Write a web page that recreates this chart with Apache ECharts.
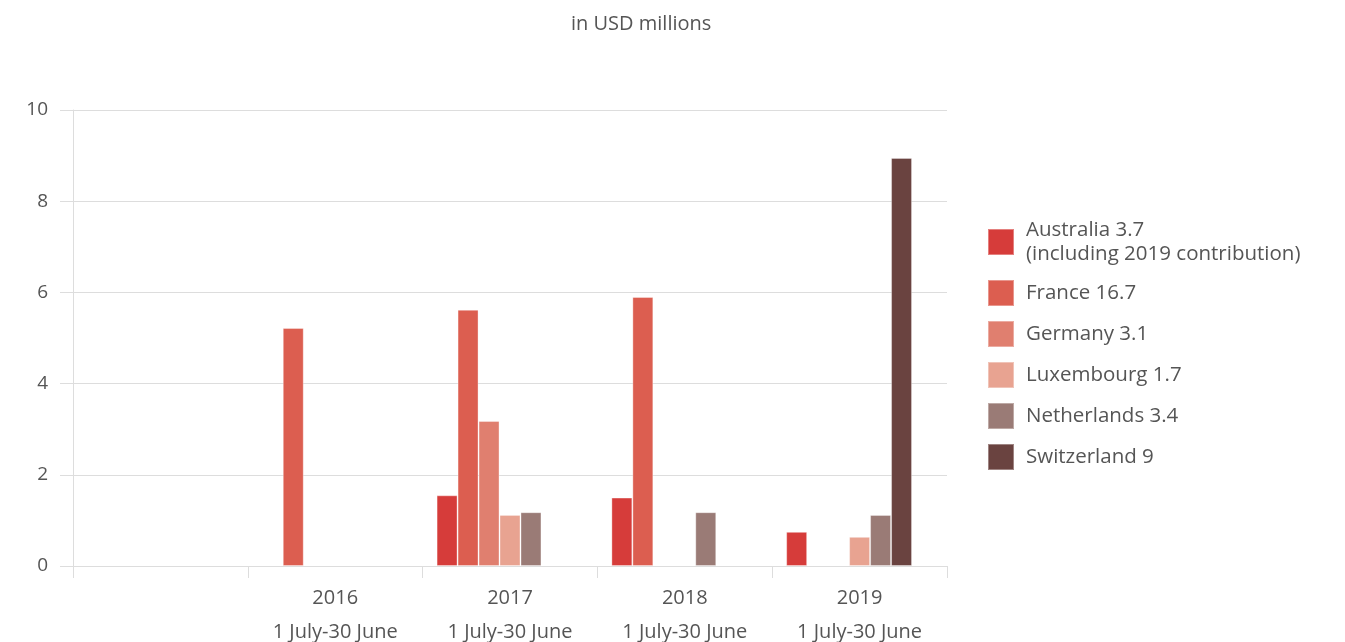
<!DOCTYPE html>
<html>
<head>
<meta charset="utf-8">
<script src="https://cdn.jsdelivr.net/npm/echarts@6/dist/echarts.min.js"></script>
<style>
html,body{margin:0;padding:0;background:#fff;}
#chart{width:1345px;height:642px;}
</style>
</head>
<body>
<div id="chart"></div>
<script>
var categories = ['', '2016', '2017', '2018', '2019'];
var subLabel = '1 July-30 June';
var australia   = [null, null, 1.55, 1.5, 0.75];
var france      = [null, 5.22, 5.62, 5.9, null];
var germany     = [null, null, 3.18, null, null];
var luxembourg  = [null, null, 1.12, null, 0.64];
var netherlands = [null, null, 1.18, 1.18, 1.12];
var switzerland = [null, null, null, null, 8.95];
var spacer      = [null, null, null, null, null];
var seriesNames = ['Australia 3.7\n(including 2019 contribution)', 'France 16.7', 'Germany 3.1', 'Luxembourg 1.7', 'Netherlands 3.4', 'Switzerland 9'];
var seriesColors = ['#D63C3A', '#DC5E50', '#E07F6F', '#E8A391', '#9A7B76', '#6A4340'];
var seriesData = [australia, france, germany, luxembourg, netherlands, switzerland];

var FONT = 'Open Sans';
var chart = echarts.init(document.getElementById('chart'));

var series = seriesData.map(function (d, i) {
  return {
    name: seriesNames[i],
    type: 'bar',
    data: d,
    barGap: '0%',
    barCategoryGap: '16%',
    itemStyle: { color: seriesColors[i], borderColor: 'rgba(255,255,255,0.35)', borderWidth: 1 }
  };
});
series.push({ name: 'spacer', type: 'bar', data: spacer, barGap: '0%', barCategoryGap: '16%' });

chart.setOption({
  animation: false,
  title: {
    text: 'in USD millions',
    left: 566,
    top: 9,
    textStyle: { fontFamily: FONT, fontSize: 20, fontWeight: 'normal', color: '#555' }
  },
  legend: {
    data: seriesNames,
    orient: 'vertical',
    left: 982,
    top: 213,
    itemWidth: 26,
    itemHeight: 26,
    itemGap: 13,
    icon: 'rect',
    textStyle: { fontFamily: FONT, fontSize: 20.5, color: '#555', lineHeight: 24, padding: [0, 0, 0, 7] }
  },
  grid: { left: 73, right: 398, top: 110, bottom: 76, outerBoundsMode: 'none', containLabel: false },
  xAxis: {
    type: 'category',
    data: categories,
    axisLine: { lineStyle: { color: '#ddd', width: 1 } },
    axisTick: { show: true, length: 12, lineStyle: { color: '#ddd' } },
    axisLabel: {
      margin: 15,
      fontFamily: FONT,
      fontSize: 20,
      color: '#555',
      lineHeight: 34,
      formatter: function (v) { return v ? v + '\n' + subLabel : ''; }
    }
  },
  yAxis: {
    type: 'value',
    min: 0,
    max: 10,
    interval: 2,
    axisLine: { show: true, lineStyle: { color: '#ddd' } },
    axisTick: { show: true, length: 13, lineStyle: { color: '#ddd' } },
    axisLabel: { margin: 25, fontFamily: FONT, fontSize: 19, color: '#555' },
    splitLine: { lineStyle: { color: '#ddd' } }
  },
  series: series
});
</script>
</body>
</html>
